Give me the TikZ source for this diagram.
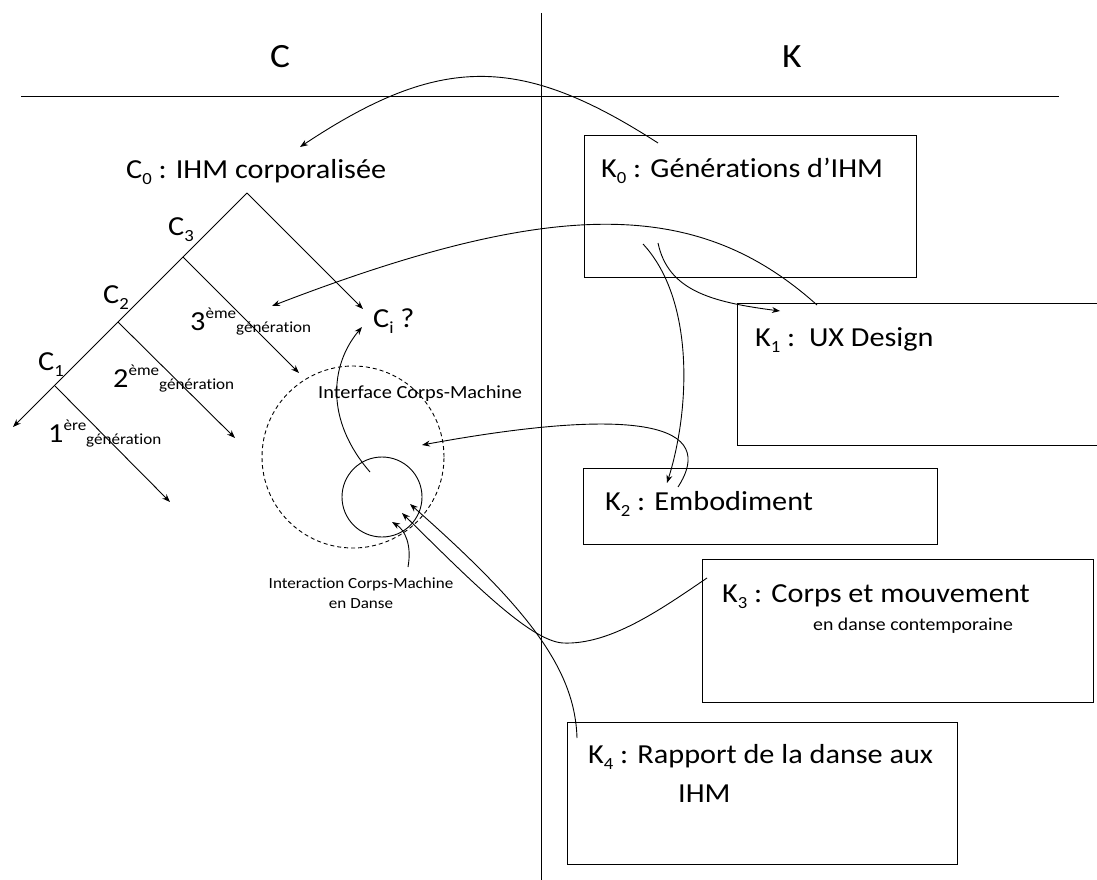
\documentclass[tikz,border=0pt]{standalone}
\usepackage{fontspec}
\setmainfont{Carlito}[FakeStretch=1.1, Ligatures={NoCommon}]
\usetikzlibrary{arrows.meta}
\newcommand{\myidx}[1]{\raisebox{-0.25em}{\fontsize{17}{20}\selectfont #1}}
\newcommand{\mysup}[1]{\raisebox{0.42em}{\fontsize{15.5}{18}\selectfont #1}}
\newcommand{\mysub}[1]{\raisebox{-0.08em}{\fontsize{15.5}{18}\selectfont #1}}
\tikzset{
  ln/.style={line width=0.9pt, black},
  arr/.style={ln, -{Stealth[length=8pt,width=6pt]}},
  boxk/.style={draw, line width=1pt, inner sep=0pt, rectangle},
  tx/.style={anchor=base west, inner sep=0pt, font=\fontsize{27.5}{33}\selectfont},
  hdr/.style={anchor=base west, inner sep=0pt, font=\fontsize{34}{40}\selectfont},
  small/.style={inner sep=0pt, font=\fontsize{18.5}{22}\selectfont},
  tiny/.style={inner sep=0pt, font=\fontsize{15.5}{18}\selectfont},
}
\begin{document}
\begin{tikzpicture}[x=1pt,y=-1pt]
\useasboundingbox (0,0) rectangle (1097,880);
\clip (0,0) rectangle (1097,880);
\fill[white] (0,0) rectangle (1097,880);

% frame lines
\coordinate (vtop) at (541,13);
\coordinate (vbot) at (541,880);
\coordinate (hleft) at (21,96);
\coordinate (hright) at (1059,96);
\draw[ln] (vtop) -- (vbot);
\draw[ln] (hleft) -- (hright);

\node[hdr] (Chead) at (270,68) {C};
\node[hdr] (Khead) at (782,68) {K};

% C side
\node[tx] (C0) at (126,178) {C\myidx{0} : IHM corporalisée};

\coordinate (apex) at (247,193);
\coordinate (j3) at (183,257);
\coordinate (j2) at (118,322);
\coordinate (j1) at (55,386);
\coordinate (e0) at (13,427);
\coordinate (ei) at (363,309);
\coordinate (e3) at (299,373);
\coordinate (e2) at (235,438);
\coordinate (e1) at (170,502);
\draw[arr] (apex) -- (e0);
\draw[arr] (apex) -- (ei);
\draw[arr] (j3) -- (e3);
\draw[arr] (j2) -- (e2);
\draw[arr] (j1) -- (e1);

\node[tx] (C3) at (168,235) {C\myidx{3}};
\node[tx] (C2) at (103,303) {C\myidx{2}};
\node[tx] (C1) at (38,370) {C\myidx{1}};
\node[tx] (Ci) at (373,327) {C\myidx{i} ?};
\node[tx] (g3) at (190,330) {3\mysup{ème}\mysub{génération}};
\node[tx] (g2) at (113,387) {2\mysup{ème}\mysub{génération}};
\node[tx] (g1) at (48,442) {1\mysup{ère}\mysub{génération}};

\node[draw, circle, ln, dash pattern=on 4pt off 3pt, minimum size=182pt, inner sep=0pt] (dc) at (353,457) {};
\node[draw, circle, ln, minimum size=80pt, inner sep=0pt] (sc) at (382,497) {};
\node[small, anchor=base west] (ifc) at (318,398) {Interface Corps-Machine};
\node[tiny, anchor=base] (ia1) at (361,588) {Interaction Corps-Machine};
\node[tiny, anchor=base] (ia2) at (361,608) {en Danse};

% K side boxes
\node[boxk, minimum width=332pt, minimum height=141pt] (K0) at (750,206.5) {};
\node[boxk, minimum width=373pt, minimum height=142pt] (K1) at (923.5,374) {};
\node[boxk, minimum width=354pt, minimum height=76pt] (K2) at (760,506) {};
\node[boxk, minimum width=391pt, minimum height=143pt] (K3) at (897.5,630.5) {};
\node[boxk, minimum width=390pt, minimum height=142pt] (K4) at (762,793) {};

\node[tx] (K0t) at (601,177) {K\myidx{0} : Générations d’IHM};
\node[tx] (K1t) at (755,346) {K\myidx{1} :\ \ UX Design};
\node[tx] (K2t) at (605,510) {K\myidx{2} : Embodiment};
\node[tx] (K3t) at (722,602) {K\myidx{3} : Corps et mouvement};
\node[inner sep=0pt, anchor=base west, font=\fontsize{18}{22}\selectfont] (K3s) at (813,630) {en danse contemporaine};
\node[tx] (K4t) at (588,763) {K\myidx{4} : Rapport de la danse aux};
\node[tx] (K4s) at (678,802) {IHM};

% connector end points
\coordinate (s1) at (658,143);
\coordinate (t1) at (300,147);
\coordinate (s2) at (817,305);
\coordinate (t2) at (272,306);
\coordinate (s3) at (658,243);
\coordinate (t3) at (780,311);
\coordinate (s4) at (643,244);
\coordinate (t4) at (667,483);
\coordinate (s5) at (678,487);
\coordinate (t5) at (422,445);
\coordinate (s6) at (370,472);
\coordinate (t6) at (362,327);
\coordinate (s7) at (408,567);
\coordinate (t7) at (392,522);
\coordinate (s8) at (707,578);
\coordinate (t8) at (402,513);
\coordinate (s9) at (577,738);
\coordinate (t9) at (410,504);

\draw[arr] (s1) .. controls (520,54) and (440,54) .. (t1);
\draw[arr] (s2) .. controls (700,200) and (560,195) .. (t2);
\draw[arr] (s3) .. controls (668,290) and (710,302) .. (t3);
\draw[arr] (s4) .. controls (695,300) and (690,410) .. (t4);
\draw[arr] (s5) .. controls (718,425) and (640,405) .. (t5);
\draw[arr] (s6) .. controls (325,420) and (330,365) .. (t6);
\draw[arr] (s7) .. controls (412,545) and (405,530) .. (t7);
\draw[arr] (s8) .. controls (660,610) and (610,645) .. (563,643) .. controls (530,641) and (470,580) .. (t8);
\draw[arr] (s9) .. controls (575,670) and (530,610) .. (t9);
\end{tikzpicture}
\end{document}
